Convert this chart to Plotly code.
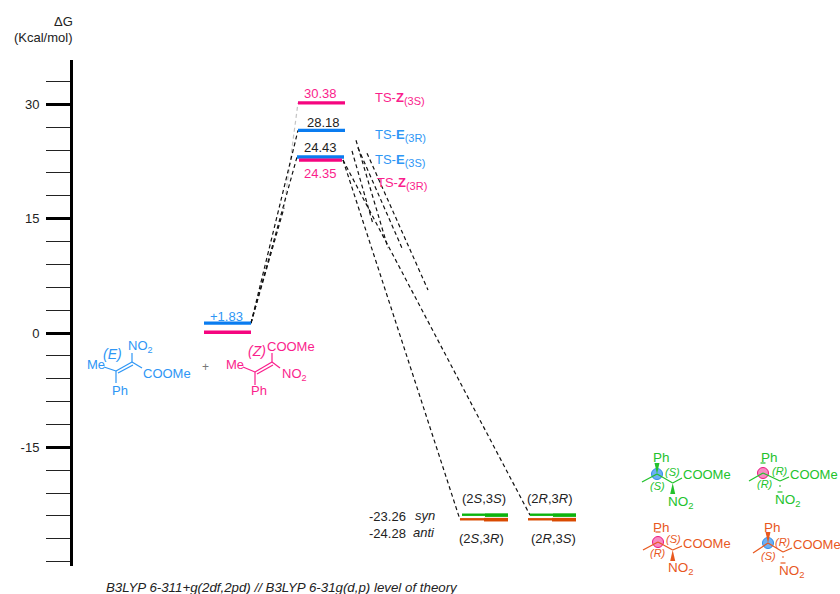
import plotly.graph_objects as go

W, H = 840, 594
FONT = "Liberation Sans"
BLUE, PINK, GREEN, ORANGE = "#0A7CF0", "#F5057F", "#0DB30D", "#D94A00"
TBLUE, TPINK, TGREEN, TORANGE = "#2E96F5", "#FA1E8C", "#22C22C", "#E8581E"

# Energy levels
level_names = ["TS-Z3S", "TS-E3R", "TS-E3S", "TS-Z3R", "SM-E", "SM-Z",
               "syn-L", "anti-L", "syn-R", "anti-R"]
level_x0 = [298, 298, 297, 299, 204, 204, 462, 460, 530, 528]
level_x1 = [345, 345, 344, 342, 251, 251, 508, 508, 576, 576]
level_e = [30.2, 26.6, 23.1, 22.7, 1.3, 0.1, -23.9, -24.5, -23.9, -24.5]
level_col = [PINK, BLUE, BLUE, PINK, BLUE, PINK, GREEN, ORANGE, GREEN, ORANGE]

# Dashed connectors: x0, e0, x1, e1
dash_black = [
    (251, 1.3, 298, 26.6), (251, 1.3, 297, 23.1), (251, 1.3, 284, 16.4),
    (343, 22.7, 460, -24.5), (343, 22.7, 530, -23.9),
    (356, 25.3, 388, 11.15), (352, 23.9, 373, 14.3),
    (358, 24.3, 402, 11.15), (367, 23.6, 428, 5.65),
]
dash_grey = [(284, 16.4, 298, 30.2)]

major_vals = [-15, 0, 15, 30]
major_text = ["-15", "0", "15", "30"]
minor_vals = [-30, -27, -24, -21, -18, -12, -9, -6, -3, 3, 6, 9, 12, 18, 21, 24, 27, 33]

fig = go.Figure()
def add_dash(seg, color):
    fig.add_trace(go.Scatter(x=[seg[0], seg[2]], y=[seg[1], seg[3]], mode="lines",
                             line=dict(color=color, width=1.2, dash="4px,3px"),
                             hoverinfo="skip", showlegend=False))
for s in dash_grey:
    add_dash(s, "#C4C4C4")
for s in dash_black:
    add_dash(s, "#111111")

for n, x0, x1, e, c in zip(level_names, level_x0, level_x1, level_e, level_col):
    if n[:3] in ("syn", "ant"):
        xm = (x0 + x1) / 2
        fig.add_trace(go.Scatter(x=[x0, xm], y=[e + 0.05, e + 0.05], mode="lines", line=dict(color=c, width=2.4),
                                 hoverinfo="skip", showlegend=False))
        fig.add_trace(go.Scatter(x=[xm, x1], y=[e, e], mode="lines", line=dict(color=c, width=3.6),
                                 hoverinfo="skip", showlegend=False))
    else:
        fig.add_trace(go.Scatter(x=[x0, x1], y=[e, e], mode="lines", line=dict(color=c, width=3.3),
                                 hoverinfo="skip", showlegend=False))

def X(x): return x / W
def Y(y): return 1 - y / H

ann = []
shapes = []
def text(x, y, s, color="#222222", size=13, anchor="left", italic=False):
    if italic:
        s = "<i>" + s + "</i>"
    ann.append(dict(x=X(x), y=Y(y), xref="paper", yref="paper", text=s, showarrow=False,
                    xanchor=anchor, yanchor="middle", borderpad=0, borderwidth=0,
                    font=dict(family=FONT, size=size, color=color)))
def seg(x0, y0, x1, y1, color, w=1.2):
    shapes.append(dict(type="line", xref="paper", yref="paper", x0=X(x0), y0=Y(y0), x1=X(x1), y1=Y(y1),
                       line=dict(color=color, width=w)))
def wedge(xa, ya, xb, yb, color):
    p = f"M {X(xa)} {Y(ya)} L {X(xb-2.5)} {Y(yb)} L {X(xb+2.5)} {Y(yb)} Z"
    shapes.append(dict(type="path", xref="paper", yref="paper", path=p, fillcolor=color,
                       line=dict(color=color, width=0)))
def ring(x, y, r, fill, line):
    shapes.append(dict(type="circle", xref="paper", yref="paper", x0=X(x-r), x1=X(x+r), y0=Y(y-r), y1=Y(y+r),
                       fillcolor=fill, line=dict(color=line, width=1)))

# axis titles
text(73, 21, "\u0394G", anchor="right")
text(73, 37, "(Kcal/mol)", anchor="right")

# TS labels
def sub(s): return '<sub><span style="font-size:11px">' + s + '</span></sub>'
text(375, 98, "TS-<b>Z</b>" + sub("(3S)"), TPINK)
text(375, 135, "TS-<b>E</b>" + sub("(3R)"), TBLUE)
text(375, 160, "TS-<b>E</b>" + sub("(3S)"), TBLUE)
text(377, 183, "TS-<b>Z</b>" + sub("(3R)"), TPINK)
text(320, 93, "30.38", TPINK, 13, "center")
text(323, 122, "28.18", "#222222", 13, "center")
text(320, 147, "24.43", "#222222", 13, "center")
text(320, 173, "24.35", TPINK, 13, "center")
text(226, 316, "+1.83", TBLUE, 13, "center")

# product labels
text(369, 516, "-23.26")
text(369, 533, "-24.28")
text(415, 515, "syn", italic=True)
text(413, 532, "anti", italic=True)
text(484, 498, "(2<i>S</i>,3<i>S</i>)", anchor="center")
text(550, 498, "(2<i>R</i>,3<i>R</i>)", anchor="center")
text(482, 538, "(2<i>S</i>,3<i>R</i>)", anchor="center")
text(553, 538, "(2<i>R</i>,3<i>S</i>)", anchor="center")
text(106, 587, "B3LYP 6-311+g(2df,2pd) // B3LYP 6-31g(d,p) level of theory", size=13.3, italic=True)
text(205, 367, "+", "#777777", 12, "center")

# E alkene
for a in [(104, 367, 116, 371), (116, 371, 132, 362), (118, 373, 133, 365), (132, 362, 142, 368),
          (132, 362, 132, 353), (116, 371, 116, 383)]:
    seg(*a, TBLUE)
text(87, 364, "Me", TBLUE, 13)
text(112, 354, "(E)", TBLUE, 14, "center", True)
text(128, 346, "NO<sub>2</sub>", TBLUE, 13)
text(143, 373, "COOMe", TBLUE, 13)
text(120, 390, "Ph", TBLUE, 13, "center")
# Z alkene
for a in [(243, 367, 255, 372), (255, 372, 272, 362), (257, 374, 273, 365), (272, 362, 280, 368),
          (272, 362, 272, 353), (255, 372, 255, 385)]:
    seg(*a, TPINK)
text(226, 364, "Me", TPINK, 13)
text(257, 351, "(Z)", TPINK, 14, "center", True)
text(267, 346, "COOMe", TPINK, 13)
text(282, 374, "NO<sub>2</sub>", TPINK, 13)
text(259, 390, "Ph", TPINK, 13, "center")

# product structures
def mol(c, me, c2, end, col, rfill, rline, top_wedge, bot_wedge, ph, no2, coo, l1, l2):
    seg(c2[0], c2[1], end[0], end[1], col)
    ring(c[0], c[1], 5.5, rfill, rline)
    seg(c[0], c[1], me[0], me[1], col)
    seg(c[0], c[1], c2[0], c2[1], col)
    if top_wedge:
        wedge(c[0], c[1], c[0], c[1] - 11, col)
    else:
        seg(c[0] - 2.5, c[1] - 10, c[0] + 2.5, c[1] - 10, col)
    if bot_wedge:
        wedge(c2[0], c2[1], c2[0], c2[1] + 11, col)
    else:
        seg(c2[0] - 1, c2[1] + 5, c2[0] + 1, c2[1] + 5, col)
        seg(c2[0] - 2.5, c2[1] + 11, c2[0] + 2.5, c2[1] + 11, col)
    text(ph[0], ph[1], "Ph", col, 13.5)
    text(no2[0], no2[1], "NO<sub>2</sub>", col, 13.5)
    text(coo[0], coo[1], "COOMe", col, 13)
    text(l1[0], l1[1], l1[2], col, 11, "center", True)
    text(l2[0], l2[1], l2[2], col, 11, "center", True)

RB, RP = "rgba(60,150,240,0.75)", "rgba(245,90,170,0.7)"
mol((657, 474), (642, 482), (672.7, 483), (682, 478), TGREEN, RB, "#2E8CE8", True, True,
    (653, 457), (668, 502), (683, 474), (672, 472, "(S)"), (657, 486, "(S)"))
mol((763, 473), (749, 481), (780, 481), (789, 477), TGREEN, RP, "#E8187F", False, False,
    (761, 457), (775, 500), (790, 474), (780, 471, "(R)"), (765, 484, "(R)"))
mol((658, 542), (643, 550), (672.7, 550), (682, 546), TORANGE, RP, "#E8187F", False, True,
    (653, 527), (668, 568), (683, 543), (673, 539, "(S)"), (658, 553, "(R)"))
mol((768, 543), (753, 553), (783, 552), (792, 548), TORANGE, RB, "#2E8CE8", True, False,
    (764, 527), (779, 571), (793, 544), (783, 542, "(R)"), (768, 556, "(S)"))

fig.update_layout(
    width=W, height=H, margin=dict(l=0, r=0, t=0, b=0),
    paper_bgcolor="white", plot_bgcolor="white", showlegend=False,
    annotations=ann, shapes=shapes,
    font=dict(family=FONT, size=13, color="#222222"),
    xaxis=dict(range=[0, W], domain=[0, 1], visible=False, fixedrange=True),
    yaxis=dict(range=[-30.58, 35.83], domain=[(H - 566) / H, (H - 60) / H],
               anchor="free", position=71 / W, side="left", showgrid=False, zeroline=False,
               showline=True, linecolor="#000000", linewidth=3,
               ticks="outside", ticklen=24, tickwidth=3, tickcolor="#000000",
               tickmode="array", tickvals=major_vals, ticktext=major_text, ticklabelstandoff=4,
               tickfont=dict(family=FONT, size=13, color="#222222"),
               minor=dict(ticks="outside", ticklen=24, tickwidth=1, tickcolor="#222222",
                          tickmode="array", tickvals=minor_vals, showgrid=False)),
)
fig.write_html("out.html", post_script="document.body.style.margin='0';",
               config={"displayModeBar": False})
